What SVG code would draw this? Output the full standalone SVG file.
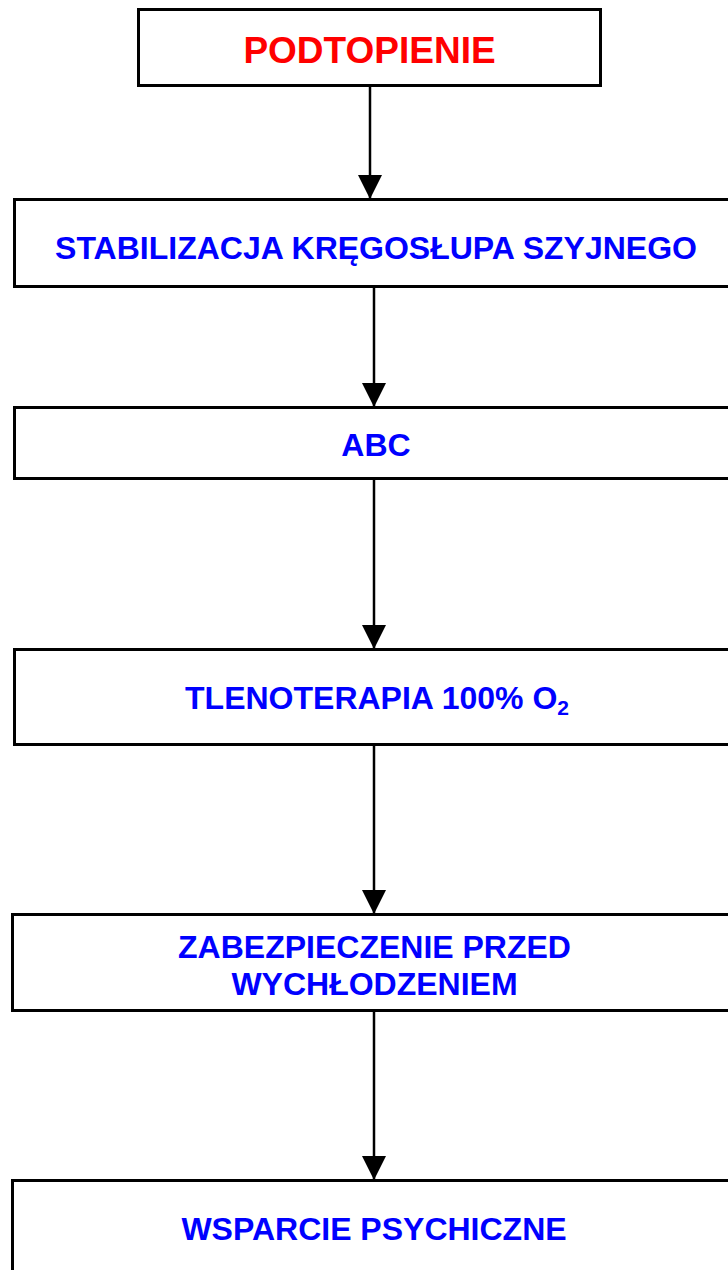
<svg xmlns="http://www.w3.org/2000/svg" width="728" height="1270" viewBox="0 0 728 1270">
<style>
.box{fill:#fff;stroke:#000;stroke-width:3}
.t{font-family:"Liberation Sans",Arial,sans-serif;font-weight:bold;text-anchor:middle;fill:#0000ff;font-size:32px}
.red{fill:#ff0000;font-size:37px}
.c{stroke:#000;stroke-width:2.5;fill:none;marker-end:url(#ah)}
</style>
<defs>
<marker id="ah" markerUnits="userSpaceOnUse" markerWidth="24" markerHeight="24" refX="24" refY="12" orient="auto" viewBox="0 0 24 24">
<path d="M0,0 L24,12 L0,24 z" fill="#000"/>
</marker>
</defs>
<rect width="728" height="1270" fill="#fff"/>
<g id="connectors">
<line class="c" x1="370" y1="86" x2="370" y2="199"/>
<line class="c" x1="374" y1="287" x2="374" y2="407"/>
<line class="c" x1="374" y1="479" x2="374" y2="649"/>
<line class="c" x1="374" y1="745" x2="374" y2="914"/>
<line class="c" x1="374" y1="1011" x2="374" y2="1180"/>
</g>
<g id="n1">
<rect class="box" x="138.5" y="9.5" width="462" height="76"/>
<text class="t red" x="369.5" y="63">PODTOPIENIE</text>
</g>
<g id="n2">
<rect class="box" x="14.5" y="199.5" width="730" height="87"/>
<text class="t" x="376" y="259">STABILIZACJA KRĘGOSŁUPA SZYJNEGO</text>
</g>
<g id="n3">
<rect class="box" x="14.5" y="407.5" width="730" height="71"/>
<text class="t" x="376" y="456">ABC</text>
</g>
<g id="n4">
<rect class="box" x="14.5" y="649.5" width="730" height="95"/>
<text class="t" x="377" y="709">TLENOTERAPIA 100% O<tspan font-size="21" dy="6">2</tspan></text>
</g>
<g id="n5">
<rect class="box" x="12.5" y="914.5" width="732" height="96"/>
<text class="t" x="374.5" y="958">ZABEZPIECZENIE PRZED</text>
<text class="t" x="374.5" y="995">WYCHŁODZENIEM</text>
</g>
<g id="n6">
<rect class="box" x="12.5" y="1180.5" width="732" height="100"/>
<text class="t" x="374" y="1240">WSPARCIE PSYCHICZNE</text>
</g>
</svg>
